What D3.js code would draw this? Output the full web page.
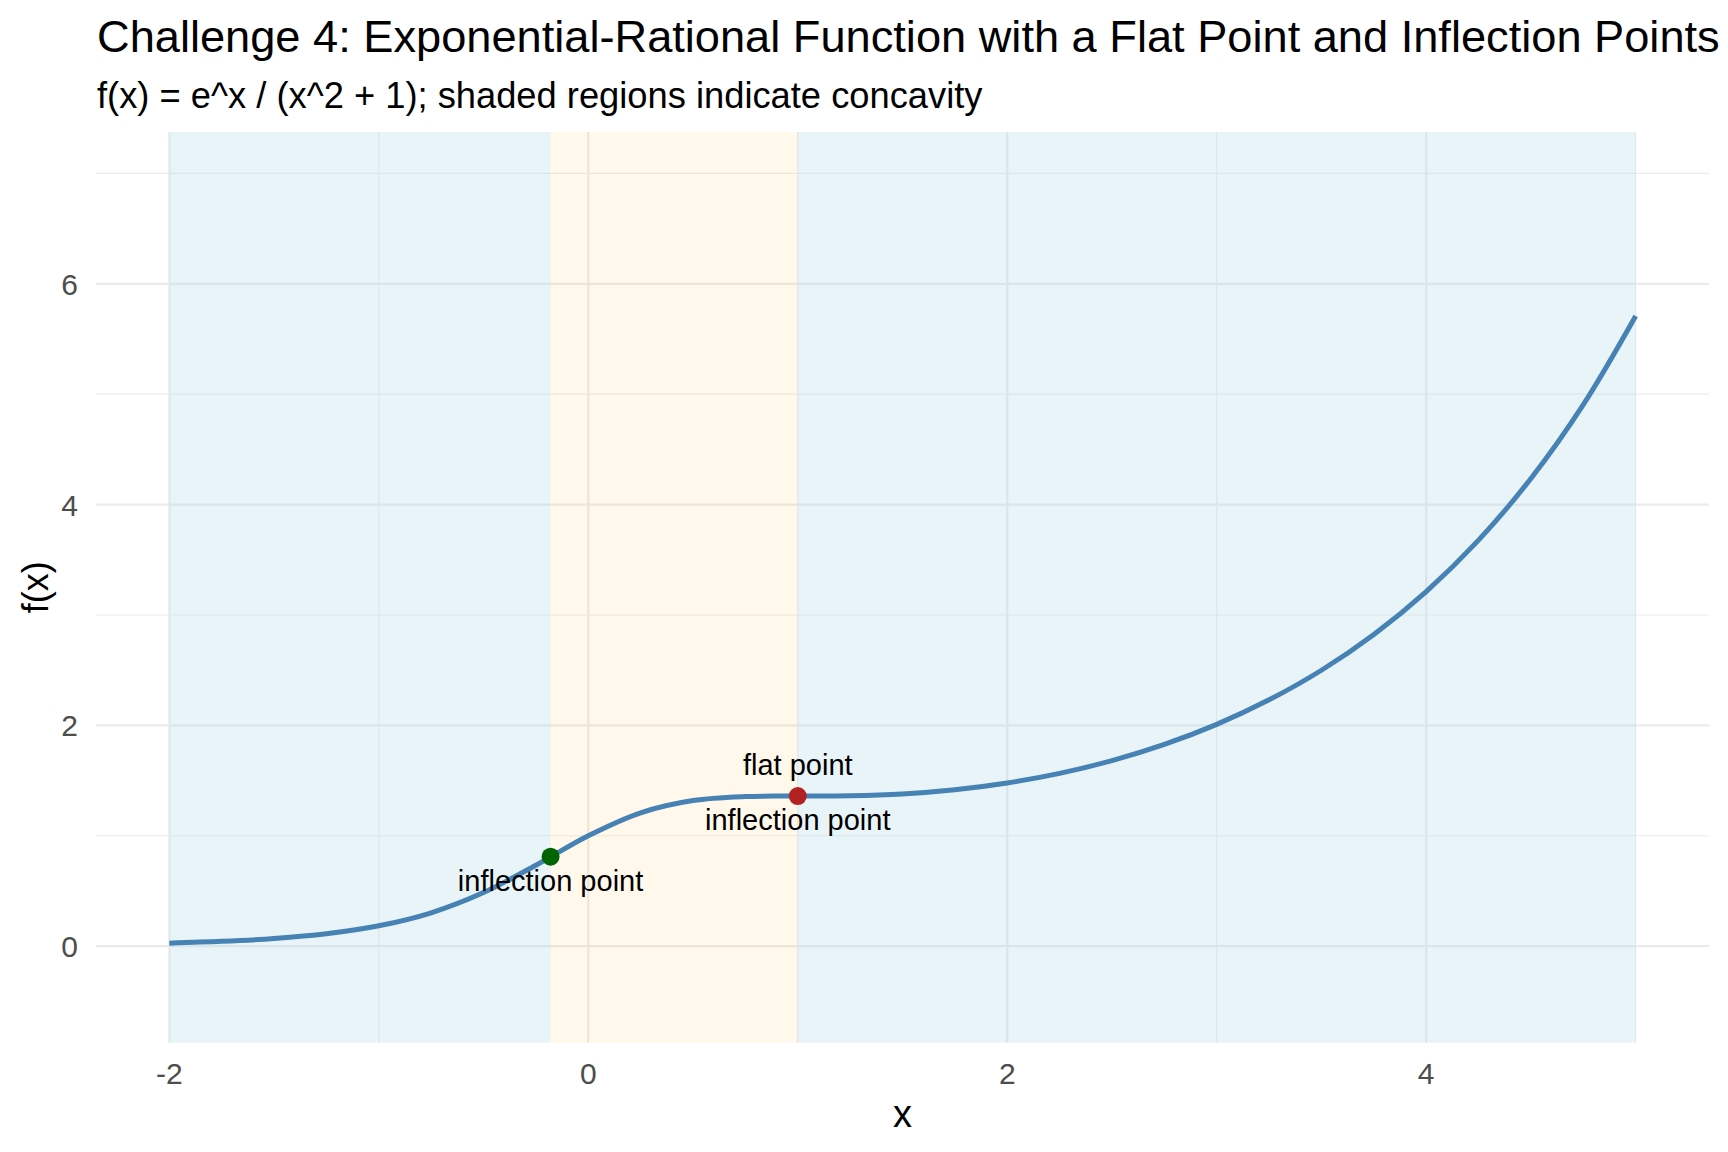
<!DOCTYPE html>
<html>
<head>
<meta charset="utf-8">
<script src="https://cdn.jsdelivr.net/npm/d3@7"></script>
<style>
  body { margin: 0; background: #ffffff; }
  text { font-family: "Liberation Sans", Arial, sans-serif; }
</style>
</head>
<body>
<script>
// chart size
const width = 1728;
const height = 1152;

// the titles
const mainTitle = 'Challenge 4: Exponential-Rational Function with a Flat Point and Inflection Points';
const subTitle = 'f(x) = e^x / (x^2 + 1); shaded regions indicate concavity';
const xTitle = 'x';
const yTitle = 'f(x)';

// the curve, values
const curveX = [-2, -1.75, -1.5, -1.25, -1, -0.75, -0.5, -0.25, 0, 0.25, 0.5, 0.75, 1,
  1.25, 1.5, 1.75, 2, 2.25, 2.5, 2.75, 3, 3.25, 3.5, 3.75, 4, 4.25, 4.5, 4.75, 5];
const curveY = [0.027, 0.043, 0.069, 0.112, 0.184, 0.302, 0.485, 0.733, 1.0, 1.208, 1.319, 1.355, 1.359,
  1.362, 1.379, 1.417, 1.478, 1.565, 1.680, 1.827, 2.009, 2.231, 2.499, 2.823, 3.212, 3.678, 4.236, 4.905, 5.708];

// concavity bands
const bandStart = [-2, -0.18, 1];
const bandEnd = [-0.18, 1, 5];
const bandKind = ['up', 'down', 'up'];

// marked points
const markX = [-0.18, 1];
const markY = [0.81, 1.359];
const markColor = ['#006400', '#B22222'];
const labelAbove = ['', 'flat point'];
const labelBelow = ['inflection point', 'inflection point'];

// ticks
const xTicks = [-2, 0, 2, 4];
const xMinor = [-1, 1, 3, 5];
const yTicks = [0, 2, 4, 6];
const yMinor = [1, 3, 5, 7];

// scales (ggplot style 5% expansion)
const x = d3.scaleLinear().domain([-2.35, 5.35]).range([96, 1709]);
const y = d3.scaleLinear().domain([-0.875, 7.375]).range([1042.7, 132]);

var svg = d3.select('body')
  .append('svg')
  .attr('width', width)
  .attr('height', height)
  .style('background-color', '#ffffff');

// grid lines
var grid = svg.append('g');
grid.selectAll('.ymin').data(yMinor).enter().append('line')
  .attr('x1', x.range()[0]).attr('x2', x.range()[1])
  .attr('y1', d => y(d)).attr('y2', d => y(d))
  .attr('stroke', '#EBEBEB').attr('stroke-width', 1.1);
grid.selectAll('.xmin').data(xMinor).enter().append('line')
  .attr('y1', y.range()[0]).attr('y2', y.range()[1])
  .attr('x1', d => x(d)).attr('x2', d => x(d))
  .attr('stroke', '#EBEBEB').attr('stroke-width', 1.1);
grid.selectAll('.ymaj').data(yTicks).enter().append('line')
  .attr('x1', x.range()[0]).attr('x2', x.range()[1])
  .attr('y1', d => y(d)).attr('y2', d => y(d))
  .attr('stroke', '#EBEBEB').attr('stroke-width', 2.2);
grid.selectAll('.xmaj').data(xTicks).enter().append('line')
  .attr('y1', y.range()[0]).attr('y2', y.range()[1])
  .attr('x1', d => x(d)).attr('x2', d => x(d))
  .attr('stroke', '#EBEBEB').attr('stroke-width', 2.2);

// shaded concavity bands, drawn over the grid
svg.append('g').selectAll('rect')
  .data(bandStart.map((s, i) => ({ s: s, e: bandEnd[i], k: bandKind[i] })))
  .enter().append('rect')
  .attr('x', d => x(d.s))
  .attr('width', d => x(d.e) - x(d.s))
  .attr('y', y.range()[1])
  .attr('height', y.range()[0] - y.range()[1])
  .attr('fill', d => d.k == 'up' ? '#ADD8E6' : '#FFA500')
  .attr('fill-opacity', d => d.k == 'up' ? 0.28 : 0.08);

// the curve
var line = d3.line()
  .x(d => x(d[0]))
  .y(d => y(d[1]))
  .curve(d3.curveCatmullRom.alpha(0.5));

svg.append('path')
  .datum(curveX.map((v, i) => [v, curveY[i]]))
  .attr('d', line)
  .attr('fill', 'none')
  .attr('stroke', '#4682B4')
  .attr('stroke-width', 5);

// points and labels
markX.forEach(function(mx, i) {
  svg.append('circle')
    .attr('cx', x(mx))
    .attr('cy', y(markY[i]))
    .attr('r', 9)
    .attr('fill', markColor[i]);
  if (labelAbove[i]) {
    svg.append('text')
      .attr('x', x(mx))
      .attr('y', y(markY[i]) - 21)
      .style('font-size', '29px')
      .style('text-anchor', 'middle')
      .text(labelAbove[i]);
  }
  svg.append('text')
    .attr('x', x(mx))
    .attr('y', y(markY[i]) + 34)
    .style('font-size', '29px')
    .style('text-anchor', 'middle')
    .text(labelBelow[i]);
});

// tick labels
svg.append('g').selectAll('text').data(xTicks).enter().append('text')
  .attr('x', d => x(d))
  .attr('y', 1084)
  .style('font-size', '30px')
  .style('fill', '#4D4D4D')
  .style('text-anchor', 'middle')
  .text(d => d);

svg.append('g').selectAll('text').data(yTicks).enter().append('text')
  .attr('x', 78)
  .attr('y', d => y(d) + 11)
  .style('font-size', '30px')
  .style('fill', '#4D4D4D')
  .style('text-anchor', 'end')
  .text(d => d);

// axis titles
svg.append('text')
  .attr('x', (x.range()[0] + x.range()[1]) / 2)
  .attr('y', 1127)
  .style('font-size', '38px')
  .style('text-anchor', 'middle')
  .text(xTitle);

svg.append('text')
  .attr('transform', 'translate(48,' + (y.range()[0] + y.range()[1]) / 2 + ') rotate(-90)')
  .style('font-size', '36px')
  .style('text-anchor', 'middle')
  .text(yTitle);

// main and sub title
svg.append('text')
  .attr('x', 97)
  .attr('y', 52)
  .style('font-size', '45.2px')
  .text(mainTitle);

svg.append('text')
  .attr('x', 97)
  .attr('y', 108)
  .style('font-size', '36.3px')
  .text(subTitle);
</script>
</body>
</html>
